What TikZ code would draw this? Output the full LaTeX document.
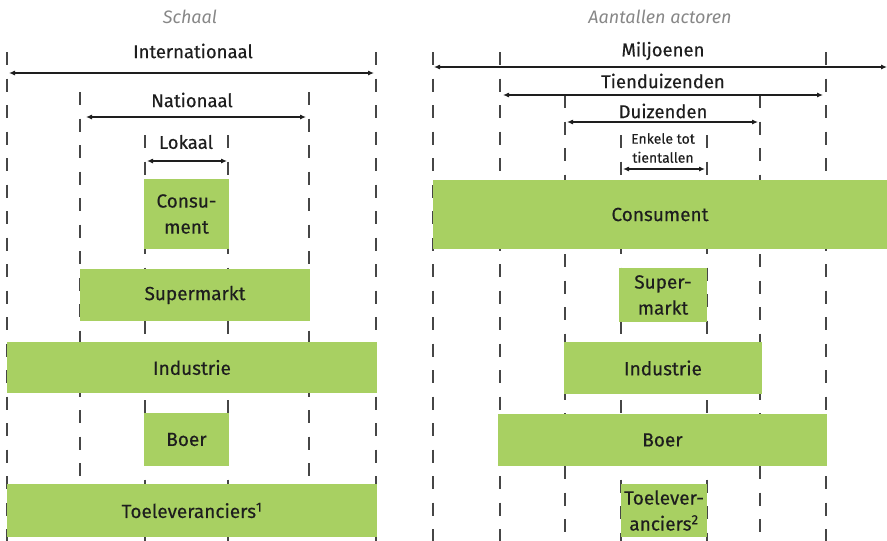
\documentclass[tikz,border=0pt]{standalone}
\usepackage{fontspec}
\setmainfont{Fira Sans}[UprightFeatures={FakeBold=0.3}]
\usetikzlibrary{arrows.meta}
\definecolor{boxgreen}{RGB}{168,208,98}
\definecolor{txt}{RGB}{30,30,30}
\definecolor{guide}{RGB}{70,70,70}
\definecolor{ttl}{RGB}{135,135,135}
\tikzset{
  x=1pt, y=-1pt,
  guideline/.style={draw=guide, line width=1.2pt, dash pattern=on 13pt off 13.5pt},
  span/.style={draw=txt, line width=1.1pt, {Latex[length=6pt,width=5pt]}-{Latex[length=6pt,width=5pt]}},
  gbox/.style={fill=boxgreen, draw=none, inner sep=0pt, align=center, text=txt, font=\fontsize{19}{26}\selectfont},
  lbl/.style={text=txt, inner sep=0pt, font=\fontsize{18.5}{22}\selectfont},
  small/.style={text=txt, inner sep=0pt, align=center, font=\fontsize{14}{19}\selectfont},
  title/.style={text=ttl, inner sep=0pt, font=\fontsize{18}{22}\selectfont\itshape}
}
\begin{document}
\begin{tikzpicture}
\useasboundingbox (0,0) rectangle (887,541);
% guide lines left
\foreach \gx/\gy in {7/52, 376/52, 80/92, 309/92, 145/135, 228/135}
  \draw[guideline] (\gx,\gy) -- (\gx,541);
% guide lines right
\foreach \gx/\gy in {433/52, 500/52, 826/52, 565/95, 760/95, 621/135, 707/135}
  \draw[guideline] (\gx,\gy) -- (\gx,541);

% titles
\node[title] (t1) at (190,17) {Schaal};
\node[title] (t2) at (660,17) {Aantallen actoren};

% left spans
\coordinate (i1) at (9,73); \coordinate (i2) at (374,73);
\coordinate (n1) at (86,117); \coordinate (n2) at (306,117);
\coordinate (k1) at (147,161); \coordinate (k2) at (227,161);
\draw[span] (i1) -- (i2);
\draw[span] (n1) -- (n2);
\draw[span] (k1) -- (k2);
\node[lbl] (li) at (193,51) {Internationaal};
\node[lbl] (ln) at (192,100) {Nationaal};
\node[lbl] (lk) at (186,142) {Lokaal};

% right spans
\coordinate (m1) at (434,67); \coordinate (m2) at (887,67);
\coordinate (d1) at (503,95); \coordinate (d2) at (823,95);
\coordinate (u1) at (567,122); \coordinate (u2) at (758,122);
\coordinate (e1) at (623,169); \coordinate (e2) at (705,169);
\draw[span] (m1) -- (m2);
\draw[span] (d1) -- (d2);
\draw[span] (u1) -- (u2);
\draw[span] (e1) -- (e2);
\node[lbl] (rm) at (663,51) {Miljoenen};
\node[lbl] (rt) at (663,81) {Tienduizenden};
\node[lbl] (rd) at (663,111) {Duizenden};
\node[small] (re) at (663,148) {Enkele tot\\tientallen};

% left boxes
\node[gbox, minimum width=85pt, minimum height=70pt] (lcons) at (186.5,214) {Consu-\\ment};
\node[gbox, minimum width=230pt, minimum height=52pt] (lsup) at (195,295) {Supermarkt};
\node[gbox, minimum width=370pt, minimum height=51pt] (lind) at (192,367.5) {Industrie};
\node[gbox, minimum width=85pt, minimum height=53pt] (lboer) at (186.5,439.5) {Boer};
\node[gbox, minimum width=370pt, minimum height=53pt] (ltoe) at (192,510.5) {Toeleveranciers\textsuperscript{1}};

% right boxes
\node[gbox, minimum width=454pt, minimum height=69pt] (rcons) at (660,214.5) {Consument};
\node[gbox, minimum width=88pt, minimum height=54pt] (rsup) at (663,295) {Super-\\markt};
\node[gbox, minimum width=198pt, minimum height=52pt] (rind) at (663,368) {Industrie};
\node[gbox, minimum width=329pt, minimum height=52pt] (rboer) at (662.5,440) {Boer};
\node[gbox, minimum width=86pt, minimum height=53pt] (rtoe) at (664,510.5) {Toelever-\\anciers\textsuperscript{2}};
\end{tikzpicture}
\end{document}
